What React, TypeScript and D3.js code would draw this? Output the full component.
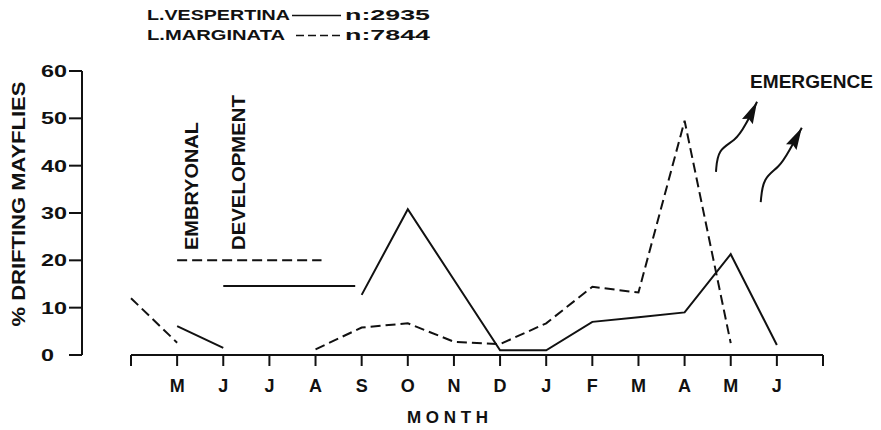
import React, { useEffect, useRef } from "react";
import * as d3 from "d3";

// Drift of two mayfly species over the year

const months = ["", "M", "J", "J", "A", "S", "O", "N", "D", "J", "F", "M", "A", "M", "J", ""];
const yTicks = [0, 10, 20, 30, 40, 50, 60];

// % drifting, one value per month slot (null = no sample)
const vespertina = [null, 6.1, 1.5, null, null, 12.7, 30.8, 15.9, 1.0, 1.0, 7.0, 8.0, 9.0, 21.3, 2.1, null];
const marginata = [12.0, 2.6, null, null, 1.2, 5.8, 6.7, 2.8, 2.3, 6.7, 14.4, 13.2, 49.5, 2.5, null, null];

// embryonal development bars: [fromSlot, toSlot, value]
const embryoMarginata = [1, 4.13, 20];
const embryoVespertina = [2, 4.86, 14.6];

// emergence arrows in (slot, %) units
const arrow1 = [[12.68, 38.7], [12.72, 43.5], [13.1, 45.2], [13.32, 48.5], [13.57, 53.5]];
const arrow2 = [[13.65, 32.3], [13.7, 37.5], [14.05, 39.6], [14.26, 43.0], [14.54, 48.0]];

const legend = [
  { name: "L.VESPERTINA", n: "n:2935", dash: null },
  { name: "L.MARGINATA", n: "n:7844", dash: "8 4" },
];

const FONT = "'Liberation Sans', Arial, Helvetica, sans-serif";
const INK = "#111";

export default function App() {
  const ref = useRef<SVGSVGElement>(null);

  useEffect(() => {
    const svg = d3.select(ref.current);
    svg.selectAll("*").remove();

    const x = d3.scaleLinear().domain([0, 15]).range([131, 823]);
    const y = d3.scaleLinear().domain([0, 60]).range([355, 71]);

    const g = svg.append("g")
      .attr("font-family", FONT)
      .attr("font-weight", "bold")
      .attr("fill", INK);

    // y axis
    g.append("line")
      .attr("x1", 82).attr("x2", 82)
      .attr("y1", y(60)).attr("y2", y(0))
      .attr("stroke", INK).attr("stroke-width", 2);
    g.selectAll(".ytick").data(yTicks).join("line")
      .attr("class", "ytick")
      .attr("x1", 69).attr("x2", 82)
      .attr("y1", d => y(d)).attr("y2", d => y(d))
      .attr("stroke", INK).attr("stroke-width", 2);
    g.selectAll(".ylab").data(yTicks).join("text")
      .attr("class", "ylab")
      .attr("x", 41)
      .attr("y", d => y(d) + 6)
      .attr("font-size", 16.5)
      .attr("textLength", d => String(d).length * 13)
      .attr("lengthAdjust", "spacingAndGlyphs")
      .text(d => d);

    g.append("text")
      .attr("transform", `translate(25,${204}) rotate(-90)`)
      .attr("text-anchor", "middle")
      .attr("font-size", 18)
      .attr("textLength", 245)
      .attr("lengthAdjust", "spacingAndGlyphs")
      .text("% DRIFTING MAYFLIES");

    // x axis
    g.append("line")
      .attr("x1", x(0)).attr("x2", x(15))
      .attr("y1", y(0)).attr("y2", y(0))
      .attr("stroke", INK).attr("stroke-width", 2);
    g.selectAll(".xtick").data(months).join("line")
      .attr("class", "xtick")
      .attr("x1", (d, i) => x(i)).attr("x2", (d, i) => x(i))
      .attr("y1", y(0)).attr("y2", y(0) + 11)
      .attr("stroke", INK).attr("stroke-width", 2);
    g.selectAll(".xlab").data(months).join("text")
      .attr("class", "xlab")
      .attr("x", (d, i) => x(i))
      .attr("y", 392)
      .attr("text-anchor", "middle")
      .attr("font-size", 18)
      .text(d => d);

    g.append("text")
      .attr("x", 407).attr("y", 423)
      .attr("font-size", 17)
      .attr("textLength", 81)
      .attr("lengthAdjust", "spacing")
      .text("MONTH");

    // series
    const line = d3.line<number | null>()
      .defined(d => d != null)
      .x((d, i) => x(i))
      .y(d => y(d as number));

    g.append("path")
      .attr("d", line(vespertina))
      .attr("fill", "none").attr("stroke", INK).attr("stroke-width", 2);
    g.append("path")
      .attr("d", line(marginata))
      .attr("fill", "none").attr("stroke", INK).attr("stroke-width", 2)
      .attr("stroke-dasharray", "10 5");

    // embryonal development bars
    g.append("line")
      .attr("x1", x(embryoMarginata[0])).attr("x2", x(embryoMarginata[1]))
      .attr("y1", y(embryoMarginata[2])).attr("y2", y(embryoMarginata[2]))
      .attr("stroke", INK).attr("stroke-width", 2).attr("stroke-dasharray", "10 5");
    g.append("line")
      .attr("x1", x(embryoVespertina[0])).attr("x2", x(embryoVespertina[1]))
      .attr("y1", y(embryoVespertina[2])).attr("y2", y(embryoVespertina[2]))
      .attr("stroke", INK).attr("stroke-width", 2);

    g.append("text")
      .attr("transform", "translate(198,250) rotate(-90)")
      .attr("font-size", 18)
      .attr("textLength", 128)
      .attr("lengthAdjust", "spacingAndGlyphs")
      .text("EMBRYONAL");
    g.append("text")
      .attr("transform", "translate(245,250) rotate(-90)")
      .attr("font-size", 18)
      .attr("textLength", 155)
      .attr("lengthAdjust", "spacingAndGlyphs")
      .text("DEVELOPMENT");

    // emergence
    g.append("text")
      .attr("x", 750).attr("y", 88)
      .attr("font-size", 18)
      .attr("textLength", 123)
      .attr("lengthAdjust", "spacingAndGlyphs")
      .text("EMERGENCE");

    svg.append("defs").append("marker")
      .attr("id", "head")
      .attr("markerUnits", "userSpaceOnUse")
      .attr("markerWidth", 24).attr("markerHeight", 12)
      .attr("refX", 22).attr("refY", 6)
      .attr("orient", "auto")
      .append("path")
      .attr("d", "M0,0 L22,6 L0,12 L3,6 Z")
      .attr("fill", INK);

    const curve = d3.line<number[]>()
      .x(d => x(d[0])).y(d => y(d[1]))
      .curve(d3.curveBasis);
    [arrow1, arrow2].forEach(a => {
      g.append("path")
        .attr("d", curve(a))
        .attr("fill", "none").attr("stroke", INK).attr("stroke-width", 2)
        .attr("marker-end", "url(#head)");
    });

    // legend
    const lg = g.selectAll(".leg").data(legend).join("g")
      .attr("class", "leg")
      .attr("transform", (d, i) => `translate(0,${i * 20})`);
    lg.append("text")
      .attr("x", 147).attr("y", 20)
      .attr("font-size", 15)
      .attr("textLength", (d, i) => (i === 0 ? 143 : 138))
      .attr("lengthAdjust", "spacingAndGlyphs")
      .text(d => d.name);
    lg.append("line")
      .attr("x1", (d, i) => (i === 0 ? 292 : 296)).attr("x2", 341)
      .attr("y1", 15.5).attr("y2", 15.5)
      .attr("stroke", INK).attr("stroke-width", 1.6)
      .attr("stroke-dasharray", d => d.dash);
    lg.append("text")
      .attr("x", 345).attr("y", 20)
      .attr("font-size", 15)
      .attr("textLength", 85)
      .attr("lengthAdjust", "spacingAndGlyphs")
      .text(d => d.n);
  }, []);

  return (
    <svg
      ref={ref}
      width={881}
      height={430}
      style={{ position: "absolute", left: 0, top: 0, background: "#fff" }}
    />
  );
}
